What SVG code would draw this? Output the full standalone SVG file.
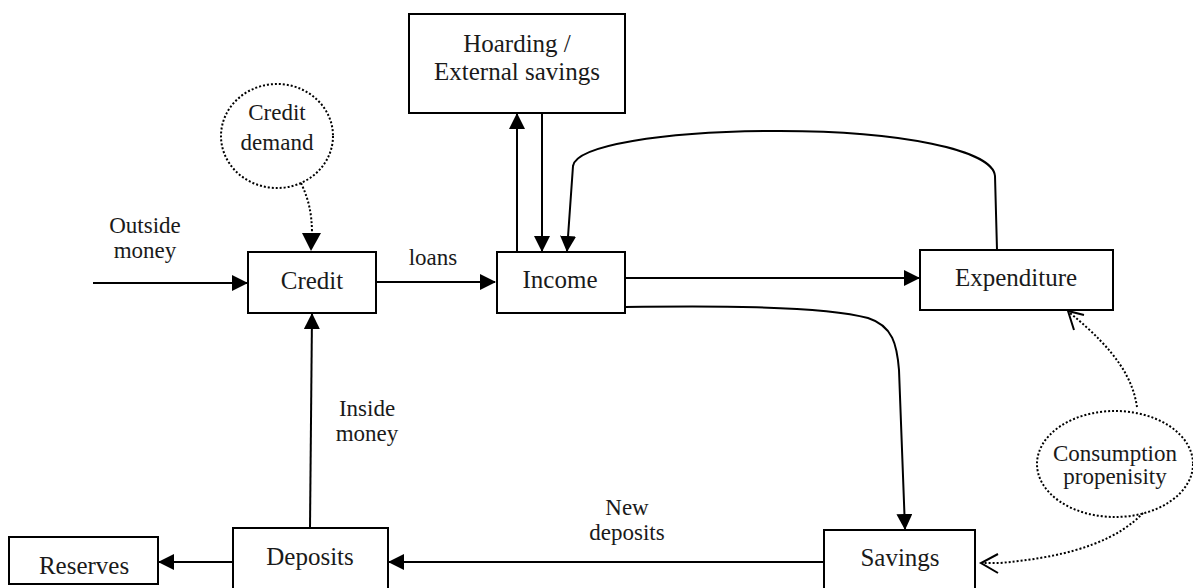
<svg xmlns="http://www.w3.org/2000/svg" width="1193" height="588" viewBox="0 0 1193 588">
<style>
.box{fill:#fff;stroke:#000;stroke-width:2}
.t{font-family:"Liberation Serif",serif;font-size:25px;fill:#1a1a1a;text-anchor:middle}
.l{font-family:"Liberation Serif",serif;font-size:23px;fill:#1a1a1a;text-anchor:middle}
.c{fill:none;stroke:#000;stroke-width:2}
.d{fill:none;stroke:#000;stroke-width:2;stroke-dasharray:2 2}
.o{fill:none;stroke:#000;stroke-width:2}
</style>
<defs>
<marker id="ah" markerWidth="16" markerHeight="16" refX="15" refY="8" orient="auto" markerUnits="userSpaceOnUse">
<path d="M0,0 L16,8 L0,16 Z" fill="#000"/>
</marker>
</defs>
<rect width="1193" height="588" fill="#fff"/>
<g id="connectors">
<line class="c" x1="93" y1="283" x2="247" y2="283" marker-end="url(#ah)"/>
<line class="c" x1="376" y1="282" x2="495" y2="282" marker-end="url(#ah)"/>
<line class="c" x1="625" y1="278" x2="919" y2="278" marker-end="url(#ah)"/>
<line class="c" x1="517" y1="252" x2="517" y2="114" marker-end="url(#ah)"/>
<line class="c" x1="542" y1="113" x2="542" y2="251" marker-end="url(#ah)"/>
<path class="c" d="M997 250 L995 176 C993 150 900 131 780 131 C660 131 576 146 573 166 L567 251" marker-end="url(#ah)"/>
<path class="c" d="M625 307 C700 306 820 305 868 318 C893 326 897 345 899 370 L905 529" marker-end="url(#ah)"/>
<line class="c" x1="310" y1="528" x2="312" y2="314" marker-end="url(#ah)"/>
<line class="c" x1="825" y1="562" x2="389" y2="562" marker-end="url(#ah)"/>
<line class="c" x1="233" y1="562" x2="159" y2="562" marker-end="url(#ah)"/>
<path class="d" d="M301 183 C308 198 312 212 312 234"/>
<path d="M302 233 L321 233 L311 251 Z" fill="#000"/>
<path class="d" d="M1137 407 C1133 380 1118 352 1070 313"/>
<path class="o" d="M1074 330 L1068 311 L1084 315"/>
<path class="d" d="M1143 513 C1120 537 1080 556 1000 563 L982 563"/>
<path class="o" d="M998 554 L981 563 L998 573"/>
</g>
<g id="credit-demand"><ellipse class="d" cx="277" cy="136" rx="56" ry="52"/><text class="l" x="277" y="120">Credit</text><text class="l" x="277" y="150">demand</text></g>
<g id="consumption"><ellipse class="d" cx="1115" cy="464" rx="78" ry="53"/><text class="l" x="1115" y="461">Consumption</text><text class="l" x="1115" y="484">propenisity</text></g>
<g id="hoarding"><rect class="box" x="409" y="14" width="216" height="99"/><text class="t" x="517" y="52">Hoarding /</text><text class="t" x="517" y="80">External savings</text></g>
<g id="credit"><rect class="box" x="248" y="252" width="128" height="61"/><text class="t" x="312" y="289">Credit</text></g>
<g id="income"><rect class="box" x="497" y="252" width="128" height="61"/><text class="t" x="560" y="288">Income</text></g>
<g id="expenditure"><rect class="box" x="920" y="250" width="193" height="60"/><text class="t" x="1016" y="286">Expenditure</text></g>
<g id="deposits"><rect class="box" x="233" y="528" width="155" height="62"/><text class="t" x="310" y="565">Deposits</text></g>
<g id="reserves"><rect class="box" x="9" y="537" width="149" height="47"/><text class="t" x="84" y="574">Reserves</text></g>
<g id="savings"><rect class="box" x="824" y="530" width="151" height="60"/><text class="t" x="900" y="566">Savings</text></g>
<g id="labels">
<text class="l" x="145" y="233">Outside</text><text class="l" x="145" y="258">money</text>
<text class="l" x="433" y="265">loans</text>
<text class="l" x="367" y="416">Inside</text><text class="l" x="367" y="441">money</text>
<text class="l" x="627" y="515">New</text><text class="l" x="627" y="540">deposits</text>
</g>
</svg>
